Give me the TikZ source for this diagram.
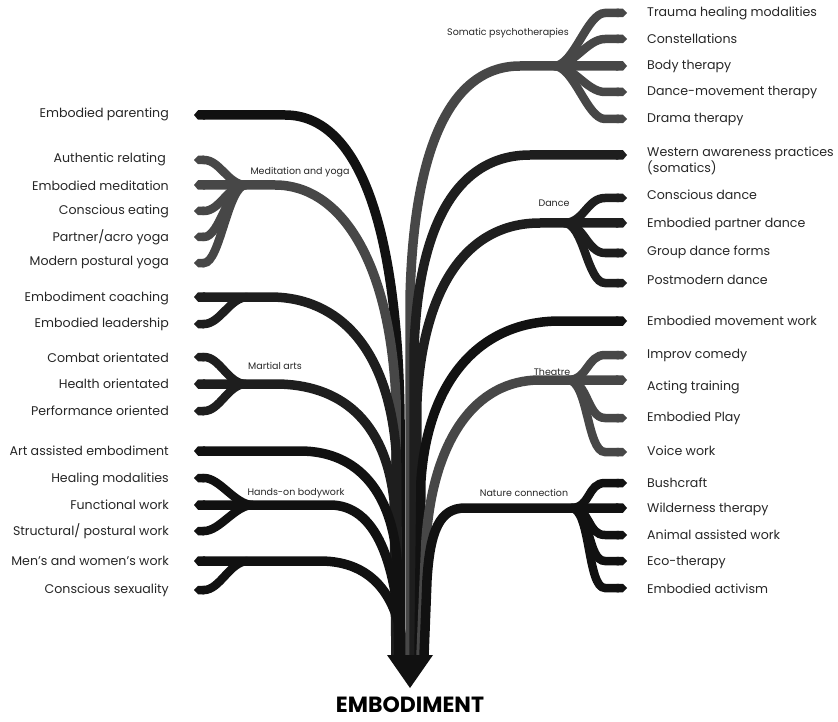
\documentclass[tikz,border=0pt]{standalone}
\usepackage{fontspec}
\setmainfont{Poppins}
\usetikzlibrary{arrows.meta}
\definecolor{cK}{HTML}{111111}
\definecolor{cD}{HTML}{1E1E1E}
\definecolor{cG}{HTML}{474747}
\begin{document}
\begin{tikzpicture}[x=1pt,y=-1pt,
  br/.style={line width=9.5pt,-{Triangle Cap[length=4pt]}},
  sb/.style={line width=8.5pt,-{Triangle Cap[length=4pt]}},
  lab/.style={font=\fontsize{12.6}{14}\selectfont, inner sep=0pt, text=black!85},
  labL/.style={lab,anchor=east},
  labR/.style={lab,anchor=west},
  grp/.style={font=\fontsize{9.5}{11}\selectfont, inner sep=0pt, text=black!85}]
\useasboundingbox (0,0) rectangle (838,722);

% ---------- labels left ----------
\node[labL] (lEP) at (169,114) {Embodied parenting};
\node[labL] (lAR) at (166,159) {Authentic relating};
\node[labL] (lEMd) at (169,186) {Embodied meditation};
\node[labL] (lCE) at (169,211) {Conscious eating};
\node[labL] (lPA) at (169,237) {Partner/acro yoga};
\node[labL] (lMP) at (169,263) {Modern postural yoga};
\node[labL] (lEC) at (169,298) {Embodiment coaching};
\node[labL] (lEL) at (169,324) {Embodied leadership};
\node[labL] (lCO) at (169,358) {Combat orientated};
\node[labL] (lHO) at (169,384) {Health orientated};
\node[labL] (lPO) at (169,411) {Performance oriented};
\node[labL] (lAA) at (169,451) {Art assisted embodiment};
\node[labL] (lHM) at (169,479) {Healing modalities};
\node[labL] (lFW) at (169,505) {Functional work};
\node[labL] (lSW) at (169,531) {Structural/ postural work};
\node[labL] (lMW) at (169,561) {Men’s and women’s work};
\node[labL] (lCS) at (169,590) {Conscious sexuality};

% ---------- labels right ----------
\node[labR] (rTH) at (647,13) {Trauma healing modalities};
\node[labR] (rCo) at (647,39) {Constellations};
\node[labR] (rBT) at (647,66) {Body therapy};
\node[labR] (rDM) at (647,92) {Dance-movement therapy};
\node[labR] (rDT) at (647,119) {Drama therapy};
\node[labR,align=left,anchor=north west] (rWA) at (647,147) {Western awareness practices\\(somatics)};
\node[labR] (rCD) at (647,195) {Conscious dance};
\node[labR] (rEPD) at (647,224) {Embodied partner dance};
\node[labR] (rGD) at (647,252) {Group dance forms};
\node[labR] (rPD) at (647,280) {Postmodern dance};
\node[labR] (rEM) at (647,321) {Embodied movement work};
\node[labR] (rIC) at (647,355) {Improv comedy};
\node[labR] (rAT) at (647,387) {Acting training};
\node[labR] (rEPl) at (647,418) {Embodied Play};
\node[labR] (rVW) at (647,451) {Voice work};
\node[labR] (rBC) at (647,483) {Bushcraft};
\node[labR] (rWT) at (647,509) {Wilderness therapy};
\node[labR] (rAW) at (647,535) {Animal assisted work};
\node[labR] (rET) at (647,562) {Eco-therapy};
\node[labR] (rEA) at (647,589) {Embodied activism};

% ---------- group labels ----------
\node[grp] (gSP) at (508,33) {Somatic psychotherapies};
\node[grp] (gMY) at (300,172) {Meditation and yoga};
\node[grp] (gDA) at (554,203) {Dance};
\node[grp] (gMA) at (275,366) {Martial arts};
\node[grp] (gTH) at (552,372) {Theatre};
\node[grp] (gHB) at (296,493) {Hands-on bodywork};
\node[grp] (gNC) at (524,493) {Nature connection};

% ---------- coordinates: tips ----------
\foreach \n/\y in {EP/115,AR/160,EMd/185,CE/211,PA/237,MP/263,EC/297,EL/324,CO/357,HO/384,PO/411,AA/451,HM/478,FW/505,SW/531,MW/561,CS/590}
  \coordinate (t\n) at (194,\y);
\foreach \n/\y in {TH/13,Co/39,BT/66,DM/92,DT/119,WA/155,CD/198,EPD/223,GD/253,PD/283,EM/321,IC/355,AT/380,EPl/418,VW/452,BC/483,WT/508,AW/535,ET/561,EA/588}
  \coordinate (t\n) at (627,\y);

% junctions
\coordinate (jMY) at (240,185);
\coordinate (jEC) at (242,297);
\coordinate (jMA) at (240,384);
\coordinate (jHB) at (247,505);
\coordinate (jMW) at (242,561);
\coordinate (jSP) at (566,66);
\coordinate (jDA) at (576,223);
\coordinate (jTH) at (580,380);
\coordinate (jNC) at (583,508);

% trunk bases
\coordinate (bEP) at (400,656);
\coordinate (bMY) at (397,656);
\coordinate (bEC) at (398,656);
\coordinate (bMA) at (396,656);
\coordinate (bAA) at (399,656);
\coordinate (bHB) at (401,656);
\coordinate (bMW) at (404,656);
\coordinate (bSP) at (410,656);
\coordinate (bWA) at (414,656);
\coordinate (bDA) at (416,656);
\coordinate (bEM) at (419,656);
\coordinate (bTH) at (421,656);
\coordinate (bNC) at (424,656);

% ---------- left main branches ----------
\draw[br,cK] (bEP) -- (400,420) .. controls (398,230) and (360,115) .. (285,115) -- (tEP);
\draw[br,cG] (bMY) -- (396,400) .. controls (390,260) and (340,185) .. (275,185) -- (tEMd);
\draw[br,cD] (bEC) -- (396,450) .. controls (388,350) and (340,297) .. (270,297) -- (tEC);
\draw[br,cD] (bMA) -- (394,500) .. controls (385,420) and (340,384) .. (275,384) -- (tHO);
\draw[br,cK] (bAA) -- (397,560) .. controls (392,495) and (360,451) .. (300,451) -- (tAA);
\draw[br,cK] (bHB) .. controls (398,560) and (375,505) .. (330,505) -- (tFW);
\draw[br,cK] (bMW) .. controls (400,600) and (375,561) .. (320,561) -- (tMW);

% left sub branches
\foreach \t in {AR,CE,PA,MP}
  \draw[sb,cG] ([xshift=6pt]jMY) .. controls +(-18,0) and +(16,0) .. ([xshift=10pt]t\t) -- (t\t);
\draw[sb,cD] ([xshift=6pt]jEC) .. controls +(-18,0) and +(16,0) .. ([xshift=10pt]tEL) -- (tEL);
\foreach \t in {CO,PO}
  \draw[sb,cD] ([xshift=6pt]jMA) .. controls +(-18,0) and +(16,0) .. ([xshift=10pt]t\t) -- (t\t);
\foreach \t in {HM,SW}
  \draw[sb,cK] ([xshift=6pt]jHB) .. controls +(-18,0) and +(16,0) .. ([xshift=10pt]t\t) -- (t\t);
\draw[sb,cK] ([xshift=6pt]jMW) .. controls +(-18,0) and +(16,0) .. ([xshift=10pt]tCS) -- (tCS);

% ---------- right main branches ----------
\draw[br,cG] (bSP) -- (410,300) .. controls (413,150) and (450,66) .. (520,66) -- (tBT);
\draw[br,cD] (bWA) -- (414,350) .. controls (418,220) and (460,155) .. (530,155) -- (tWA);
\draw[br,cD] (bDA) -- (417,400) .. controls (423,290) and (465,223) .. (540,223) -- (tEPD);
\draw[br,cK] (bEM) -- (421,480) .. controls (428,380) and (480,321) .. (560,321) -- (tEM);
\draw[br,cG] (bTH) -- (426,540) .. controls (433,440) and (475,380) .. (540,380) -- (tAT);
\draw[br,cK] (bNC) -- (427,580) .. controls (430,530) and (440,508) .. (465,508) -- (tWT);

% right sub branches
\foreach \t in {TH,Co,DM,DT}
  \draw[sb,cG] ([xshift=-12pt]jSP) .. controls +(20,0) and +(-18,0) .. ([xshift=-22pt]t\t) -- (t\t);
\foreach \t in {CD,GD,PD}
  \draw[sb,cD] ([xshift=-12pt]jDA) .. controls +(20,0) and +(-18,0) .. ([xshift=-22pt]t\t) -- (t\t);
\foreach \t in {IC,EPl,VW}
  \draw[sb,cG] ([xshift=-12pt]jTH) .. controls +(20,0) and +(-18,0) .. ([xshift=-22pt]t\t) -- (t\t);
\foreach \t in {BC,AW,ET,EA}
  \draw[sb,cK] ([xshift=-12pt]jNC) .. controls +(20,0) and +(-18,0) .. ([xshift=-22pt]t\t) -- (t\t);

% ---------- arrow head and title ----------
\coordinate (hL) at (387,655);
\coordinate (hR) at (433,655);
\coordinate (hT) at (410,688);
\fill[cK] (hL) -- (hR) -- (hT) -- cycle;
\node[font=\bfseries\fontsize{22}{24}\selectfont, inner sep=0pt, anchor=base] (title) at (410,712) {EMBODIMENT};
\end{tikzpicture}
\end{document}
